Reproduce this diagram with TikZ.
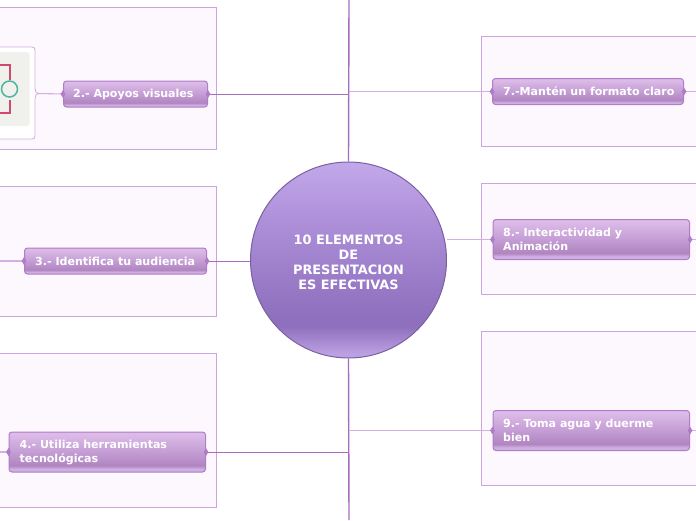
\documentclass[tikz,border=0pt]{standalone}
\usepackage{fontspec}
\setmainfont{DejaVu Sans}
\usetikzlibrary{shapes.geometric}
\definecolor{tbot}{HTML}{CFAEE0}
\definecolor{tlow}{HTML}{B085C0}
\definecolor{tmid}{HTML}{C49DD4}
\definecolor{ttop}{HTML}{DCBBE8}
\definecolor{cbot}{HTML}{BCA1E2}
\definecolor{cdark}{HTML}{8F70BE}
\definecolor{cmid}{HTML}{AB8CD6}
\definecolor{ctop}{HTML}{C2A8EA}
\definecolor{framefill}{HTML}{FDF8FE}
\definecolor{frameline}{HTML}{CBA6DE}
\definecolor{linkdark}{HTML}{A66CC0}
\definecolor{linklight}{HTML}{D2B0E0}
\definecolor{nodeline}{HTML}{AE7CC8}
\definecolor{iconred}{HTML}{CF4B6B}
\definecolor{iconteal}{HTML}{4DB5A0}
\definecolor{icongray}{HTML}{F0F0EC}
\pgfdeclareverticalshading{topicshade}{100bp}{
  color(0bp)=(tbot); color(29bp)=(tbot); color(33bp)=(tlow); color(50bp)=(tmid); color(72bp)=(ttop); color(100bp)=(ttop)}
\pgfdeclareverticalshading{centershade}{100bp}{
  color(0bp)=(cbot); color(26bp)=(cbot); color(33bp)=(cdark); color(36bp)=(cdark); color(58bp)=(cmid); color(75bp)=(ctop); color(100bp)=(ctop)}
\tikzset{
  framebox/.style={draw=frameline,fill=framefill,line width=1pt},
  link/.style={draw=linkdark,line width=1pt},
  trunk/.style={draw=linkdark,line width=1.4pt},
  softlink/.style={draw=linklight,line width=1.1pt},
  topic/.style={draw=nodeline,line width=1pt,rounded corners=3pt,shading=topicshade,
    inner sep=0pt,anchor=north west},
  sidetip/.style={diamond,fill=nodeline,draw=none,minimum width=5pt,minimum height=8pt,inner sep=0pt},
  centrecircle/.style={circle,draw=cdark!85!black,line width=1pt,shading=centershade,
    minimum size=196pt,inner sep=0pt},
}
\newcommand{\topicnode}[7]{%
  \node[topic,minimum width={(#4-#2)*1pt},minimum height={(#5-#3)*1pt}] (#1) at (#2,#3) {};
  \node[anchor=west,text=white,font=\bfseries\fontsize{11.05}{14}\selectfont,align=left,inner sep=0pt] (#1t) at (#6,{(#3+#5)/2+0.5}) {#7};
}
\begin{document}
\begin{tikzpicture}[x=1pt,y=-1pt]
\useasboundingbox (0,0) rectangle (696,520);
\clip (0,0) rectangle (696,520);
\fill[white] (0,0) rectangle (696,520);
% frames
\path[framebox] (-5,7) rectangle (216,149);
\path[framebox] (-5,186) rectangle (216,316);
\path[framebox] (-5,353) rectangle (216,507);
\path[framebox] (481,36) rectangle (701,146);
\path[framebox] (481,183) rectangle (701,294);
\path[framebox] (481,331) rectangle (701,485);
% free ends
\coordinate (tt) at (349,0);
\coordinate (tb) at (349,520);
\coordinate (l3) at (0,260);
\coordinate (brace) at (38,93.5);
% image box with brace point
\path[draw=linklight,fill=white,line width=0.8pt]
  (-5,47) -- (32,47) .. controls (34,47) and (35,48) .. (35,50) -- (35,88)
  .. controls (35,91) and (36,93) .. (brace)
  .. controls (36,94) and (35,96) .. (35,99) -- (35,136)
  .. controls (35,138) and (34,139) .. (32,139) -- (-5,139) -- cycle;
\path[fill=icongray,rounded corners=3pt] (-5,52) rectangle (29.5,126);
\draw[draw=iconred,line width=1.4pt] (-2,65) -- (10,65) -- (10,80);
\draw[draw=iconred,line width=1.4pt] (10,100) -- (10,113) -- (-2,113);
\node[circle,draw=iconteal,line width=1.5pt,fill=icongray,minimum size=16pt,inner sep=0pt] (ring) at (9.5,89) {};
% topics
\topicnode{n2}{63}{80.5}{207}{106.5}{73}{2.- Apoyos visuales}
\topicnode{n3}{24}{247.5}{206}{273.5}{35}{3.- Identifica tu audiencia}
\topicnode{n4}{8.5}{431.5}{205}{471.5}{19.5}{4.- Utiliza herramientas\\tecnológicas}
\topicnode{n7}{492}{78}{683}{104}{503}{7.-Mantén un formato claro}
\topicnode{n8}{492.5}{219}{689}{259}{503}{8.- Interactividad y\\Animación}
\topicnode{n9}{492.5}{410}{689}{450}{503}{9.- Toma agua y duerme\\bien}
% centre
\node[centrecircle] (c) at (348.5,260) {};
\node[text=white,align=center,font=\bfseries\fontsize{12.9}{15}\selectfont,inner sep=0pt] (ct) at (348.5,262.5) {10 ELEMENTOS\\DE\\PRESENTACION\\ES EFECTIVAS};
% connectors
\draw[trunk] (tt) -- (c.north);
\draw[trunk] (c.south) -- (tb);
\draw[link] (n2.east) -- (n2.east -| tt);
\draw[softlink] (n7.west -| tt) -- (n7.west);
\draw[softlink] (n8.west) -- (n8.west -| c.east);
\draw[link] (n3.east) -- (n3.east -| c.west);
\draw[link] (n4.east) -- (n4.east -| tt);
\draw[softlink] (n9.west -| tt) -- (n9.west);
\draw[softlink] (n7.east) -- (n7.east -| 696,0);
\draw[softlink] (n8.east) -- (n8.east -| 696,0);
\draw[softlink] (n9.east) -- (n9.east -| 696,0);
\draw[softlink] (n3.west) -- (n3.west -| l3);
\draw[softlink] (n4.west) -- (n4.west -| l3);
\draw[softlink] (brace) -- (n2.west);
% tips
\foreach \n in {n2,n3,n4,n7,n8,n9}{
  \node[sidetip] at (\n.west) {};
  \node[sidetip] at (\n.east) {};
}
\end{tikzpicture}
\end{document}
